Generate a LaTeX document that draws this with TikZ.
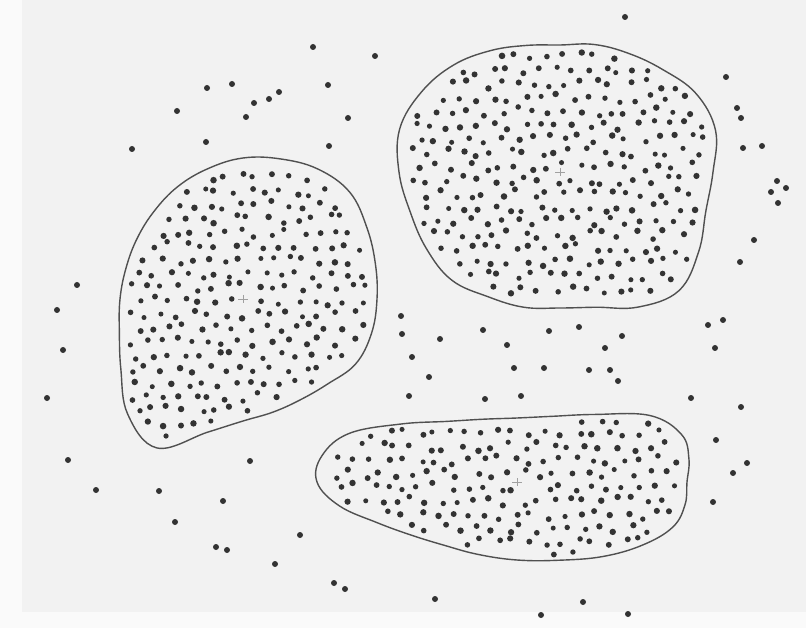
\documentclass[tikz,border=0pt]{standalone}
\usepackage{tikz}
\definecolor{bgc}{HTML}{F2F2F2}
\definecolor{edgec}{HTML}{FAFAFA}
\definecolor{dotc}{HTML}{333333}
\definecolor{linec}{HTML}{505050}
\definecolor{plusc}{HTML}{A0A0A0}
\tikzset{
  blobline/.style={draw=linec, line width=1.4pt},
  plusmark/.style={draw=plusc, line width=0.8pt},
}
\def\spc{15.8}
\def\jit{4.6}
% radii at angles 0,15,...,345 (y downward), about the plus mark
\def\RL{{134,133,130,120,116,117,122,138,172,163,141,128,123,121,122,125,130,135,141,145,150,151,143,137}}
\def\RU{{153,151,160,168,156,140,136,140,144,153,154,155,161,166,160,151,140,131,127,132,137,145,157,161}}
\def\RW{{85,87,90,89,86,81,78,75,73,75,81,92,100,101,97,82,70,65,64,68,78,94,95,89}}
\newcommand\blobline[4]{% cx, cy, sx, radii
  \def\coordlist{}%
  \foreach \kk in {0,...,23}{%
    \pgfmathsetmacro\Rv{#4[\kk]}%
    \pgfmathsetmacro\xx{#1+#3*\Rv*cos(15*\kk)}%
    \pgfmathsetmacro\yy{#2+\Rv*sin(15*\kk)}%
    \xdef\coordlist{\coordlist (\xx,\yy)}%
  }%
  \edef\tmpdraw{\noexpand\draw[blobline] plot[smooth cycle, tension=0.65] coordinates {\coordlist};}%
  \tmpdraw
  \draw[plusmark] (#1-5,#2) -- (#1+5,#2) (#1,#2-4) -- (#1,#2+4);
}
\newcommand\blobdots[7]{% cx, cy, sx, radii, Rmax, margin, seed
  \pgfmathsetseed{#7}%
  \pgfmathtruncatemacro\nrow{2*#5/(\spc*0.866)+1}%
  \pgfmathtruncatemacro\ncol{2*#3*#5/\spc+1}%
  \foreach \rw in {0,...,\nrow}{%
    \foreach \cl in {0,...,\ncol}{%
      \pgfmathsetmacro\px{#1-#3*#5+\cl*\spc+mod(\rw,2)*\spc/2+\jit*rand}%
      \pgfmathsetmacro\py{#2-#5+\rw*\spc*0.866+\jit*rand}%
      \pgfmathsetmacro\du{(\px-#1)/#3}%
      \pgfmathsetmacro\dv{\py-#2}%
      \pgfmathsetmacro\rr{veclen(\du,\dv)}%
      \pgfmathsetmacro\an{mod(atan2(\dv,\du)+360,360)}%
      \pgfmathtruncatemacro\ka{mod(floor(\an/15),24)}%
      \pgfmathtruncatemacro\kb{mod(\ka+1,24)}%
      \pgfmathsetmacro\fr{(\an-15*\ka)/15}%
      \pgfmathsetmacro\Ra{#4[\ka]}%
      \pgfmathsetmacro\Rb{#4[\kb]}%
      \pgfmathtruncatemacro\ok{and(\rr<((1-\fr)*\Ra+\fr*\Rb-#6), \rr>8)}%
      \ifnum\ok=1
        \pgfmathsetmacro\rad{2.5+0.8*rnd}%
        \fill[dotc] (\px,\py) circle[radius=\rad pt];
      \fi
    }%
  }%
}
\begin{document}
\begin{tikzpicture}[x=1pt,y=-1pt]
\useasboundingbox (0,0) rectangle (806,628);
\fill[bgc] (0,0) rectangle (806,628);
\fill[edgec] (0,0) rectangle (22,628);
\fill[edgec] (0,612) rectangle (806,628);
% blobs
\blobline{243}{299}{1}{\RL}
\blobline{560}{172}{1}{\RU}
\blobline{517}{482}{2}{\RW}
\blobdots{243}{299}{1}{\RL}{176}{8}{11}
\blobdots{560}{172}{1}{\RU}{170}{8}{23}
\blobdots{517}{482}{2}{\RW}{104}{6}{37}
% scattered dots
\foreach \p in {(625,17),(313,47),(375,56),(207,88),(232,84),(328,85),(279,92),(269,99),(254,103),(177,111),(246,117),(348,118),(206,142),(329,146),(132,149),
(726,77),(737,108),(741,118),(743,148),(762,146),(777,181),(771,192),(786,188),(778,203),(754,240),(740,262),
(77,285),(57,310),(63,350),(47,398),(68,460),(96,490),
(401,316),(402,334),(440,339),(483,330),(549,331),(579,327),(622,336),(507,345),(605,348),(708,325),(723,320),(715,348),(412,357),(514,368),(544,368),(589,370),(610,370),(618,381),(429,377),(409,396),(485,399),(521,396),(691,398),(741,407),
(716,440),(747,463),(733,473),(713,502),
(250,461),(159,491),(223,501),(175,522),(300,535),(216,547),(227,550),(275,564),(334,583),(345,589),(435,599),(583,602),(541,615),(628,614)}
  \fill[dotc] \p circle[radius=3pt];
\end{tikzpicture}
\end{document}
